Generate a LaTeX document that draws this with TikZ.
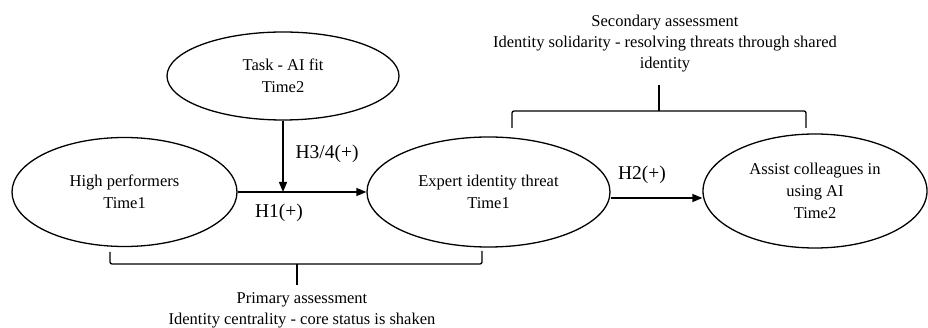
\documentclass[tikz,border=0pt]{standalone}
\usepackage{fontspec}
\setmainfont{Liberation Serif}
\usetikzlibrary{shapes.geometric,arrows.meta}
\begin{document}
\begin{tikzpicture}[x=1pt,y=-1pt,
  ell/.style={draw, ellipse, line width=1.3pt, inner sep=0pt, align=center, font=\fontsize{16.5}{22}\selectfont},
  lbl/.style={inner sep=0pt, font=\fontsize{19.5}{22}\selectfont},
  txt/.style={inner sep=0pt, align=center, font=\fontsize{16.5}{21}\selectfont},
  arr/.style={line width=1.3pt, -{Triangle[length=10pt,width=8pt]}},
  bracestyle/.style={line width=1.3pt, rounded corners=2pt}]
\useasboundingbox (0,0) rectangle (928,328);
\node[ell, minimum width=232pt, minimum height=88pt] (task) at (283,76) {Task - AI fit\\Time2};
\node[ell, minimum width=225pt, minimum height=109pt] (hp) at (124.5,192) {High performers\\Time1};
\node[ell, minimum width=243pt, minimum height=110pt] (ex) at (488.5,192) {Expert identity threat\\Time1};
\node[ell, minimum width=224pt, minimum height=114pt] (as) at (815,191) {Assist colleagues in\\using AI\\Time2};
\coordinate (m) at (task.south |- hp.east);
\coordinate (yline) at (0,198);
\draw[arr] (hp.east) -- (ex.west);
\draw[arr] (task.south) -- (m);
\draw[arr] (ex.east |- yline) -- (as.west |- yline);
\node[lbl] (h34) at (327,154) {H3/4(+)};
\node[lbl] (h1) at (279,213) {H1(+)};
\node[lbl] (h2) at (642,175) {H2(+)};
\draw[bracestyle] (110,252) |- (482,264) -- (482,251);
\draw[bracestyle] (297,264) -- (297,285);
\draw[bracestyle] (512,128) |- (806,111) -- (806,128);
\draw[bracestyle] (659,111) -- (659,85);
\node[txt] (sec) at (665,43.5) {Secondary assessment\\Identity solidarity - resolving threats through shared\\identity};
\node[txt] (pri) at (302,310) {Primary assessment\\Identity centrality - core status is shaken};
\end{tikzpicture}
\end{document}
